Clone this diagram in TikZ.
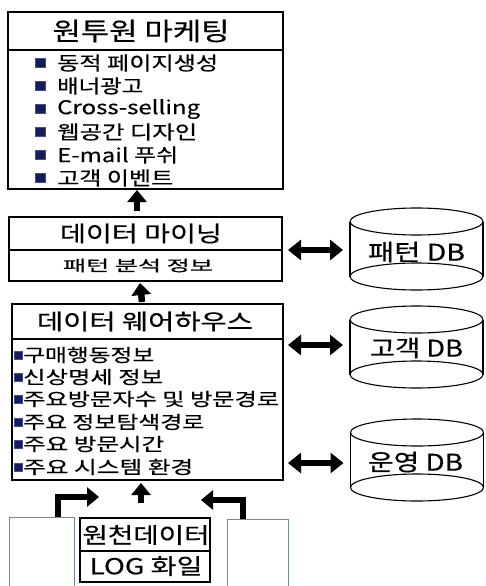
\documentclass[tikz,border=0pt]{standalone}
\usepackage{fontspec}
\usepackage{graphicx}
\usetikzlibrary{arrows.meta,calc}
\newfontfamily\kr[FakeBold=0.4]{Noto Sans CJK KR}
\newcommand{\fw}[2]{\resizebox{#1pt}{\height}{#2}}
\definecolor{navyA}{RGB}{22,28,88}
\definecolor{navyB}{RGB}{60,78,160}
\definecolor{blankblue}{RGB}{115,135,165}
\tikzset{
  box/.style={draw, line width=1.4pt, inner sep=0pt, outer sep=0pt, anchor=north west},
  blankbox/.style={draw=blankblue, line width=1.3pt, inner sep=0pt, anchor=north west},
  srcbox/.style={draw, line width=1.9pt, inner sep=0pt, outer sep=0pt, anchor=north west},
  txt/.style={inner sep=0pt},
  fA/.style={font=\kr\fontsize{25}{25}\selectfont},
  fB/.style={font=\kr\fontsize{22}{22}\selectfont},
  fC/.style={font=\kr\fontsize{19}{19}\selectfont},
  fD/.style={font=\kr\fontsize{18}{18}\selectfont},
  fE/.style={font=\kr\fontsize{15}{15}\selectfont},
  fF/.style={font=\kr\fontsize{23}{23}\selectfont},
  bulA/.style={rectangle, inner sep=0pt, minimum width=10pt, minimum height=9pt, fill=navyA, draw=navyB, line width=0.6pt},
  bulB/.style={rectangle, inner sep=0pt, minimum width=8pt, minimum height=8pt, fill=navyA, draw=navyB, line width=0.6pt},
  blk/.style={line width=6.5pt, -{Triangle[length=12pt,width=19pt]}},
  dbl/.style={line width=6.5pt, {Triangle[length=13pt,width=20pt]}-{Triangle[length=13pt,width=20pt]}},
  cylbody/.style={inner sep=0pt, outer sep=0pt, minimum width=133pt, minimum height=82pt},
  cyl/.style={line width=1.1pt}
}
\begin{document}
\begin{tikzpicture}[x=1pt,y=-1pt]
\useasboundingbox (0,0) rectangle (485,586);
\clip (0,0) rectangle (485,586);

% one-to-one marketing box
\node[box, minimum width=275pt, minimum height=38pt] (mktT) at (8,12) {};
\node[box, minimum width=275pt, minimum height=139pt] (mktB) at (8,50) {};
\node[txt, fA] (mktTitle) at (141,31) {\fw{177}{원투원 마케팅}};
\node[bulA] (mb1) at (40,63) {};
\node[bulA] (mb2) at (40,86) {};
\node[bulA] (mb3) at (40,109) {};
\node[bulA] (mb4) at (40,132) {};
\node[bulA] (mb5) at (40,155) {};
\node[bulA] (mb6) at (40,178) {};
\node[txt, fC, anchor=west] (m1) at (57,63) {\fw{161}{동적 페이지생성}};
\node[txt, fC, anchor=west] (m2) at (57,86) {\fw{86}{배너광고}};
\node[txt, fC, anchor=west] (m3) at (57,109) {\fw{143}{Cross-selling}};
\node[txt, fC, anchor=west] (m4) at (57,132) {\fw{140}{웹공간 디자인}};
\node[txt, fC, anchor=west] (m5) at (57,155) {\fw{121}{E-mail 푸쉬}};
\node[txt, fC, anchor=west] (m6) at (57,178) {\fw{116}{고객 이벤트}};

% data mining box
\node[box, minimum width=273pt, minimum height=33pt] (dmT) at (9,217) {};
\node[box, minimum width=273pt, minimum height=31pt] (dmB) at (9,250) {};
\node[txt, fB] (dmTitle) at (141,233.5) {\fw{162}{데이터 마이닝}};
\node[txt, fE] (dmSub) at (138,265.5) {\fw{150}{패턴 분석 정보}};

% data warehouse box
\node[box, minimum width=271pt, minimum height=35pt] (whT) at (12,304) {};
\node[box, minimum width=271pt, minimum height=141pt] (whB) at (12,339) {};
\node[txt, fB] (whTitle) at (145,321.5) {\fw{216}{데이터 웨어하우스}};
\node[bulB] (wb1) at (18.5,355) {};
\node[bulB] (wb2) at (18.5,377) {};
\node[bulB] (wb3) at (18.5,399) {};
\node[bulB] (wb4) at (18.5,422) {};
\node[bulB] (wb5) at (18.5,444) {};
\node[bulB] (wb6) at (18.5,467) {};
\node[txt, fD, anchor=west] (w1) at (23,355) {\fw{131}{구매행동정보}};
\node[txt, fD, anchor=west] (w2) at (23,377) {\fw{140}{신상명세 정보}};
\node[txt, fD, anchor=west] (w3) at (23,399) {\fw{256}{주요방문자수 및 방문경로}};
\node[txt, fD, anchor=west] (w4) at (23,422) {\fw{181}{주요 정보탐색경로}};
\node[txt, fD, anchor=west] (w5) at (23,444) {\fw{141}{주요 방문시간}};
\node[txt, fD, anchor=west] (w6) at (23,467) {\fw{170}{주요 시스템 환경}};

% source boxes
\node[blankbox, minimum width=65pt, minimum height=90pt] (blankL) at (9,517) {};
\node[blankbox, minimum width=61pt, minimum height=90pt] (blankR) at (227,519) {};
\node[srcbox, minimum width=130pt, minimum height=33pt] (srcA) at (80,518) {};
\node[srcbox, minimum width=130pt, minimum height=31pt] (srcB) at (80,551) {};
\node[txt, fB] (srcAt) at (146,535) {\fw{127}{원천데이터}};
\node[txt, fB] (srcBt) at (146,566) {\fw{113}{LOG 화일}};

% databases
\node[cylbody] (pdb) at (416.5,249) {};
\node[cylbody] (cdb) at (416.5,347) {};
\node[cylbody] (odb) at (417,460) {};
\foreach \c in {pdb,cdb,odb}{
  \draw[cyl] ($(\c.north west)+(0,13.5)$) -- ($(\c.south west)+(0,-13.5)$);
  \draw[cyl] ($(\c.north east)+(0,13.5)$) -- ($(\c.south east)+(0,-13.5)$);
  \draw[cyl] ($(\c.north)+(0,13.5)$) ellipse [x radius=66.5pt, y radius=13.5pt];
  \draw[cyl] ($(\c.south)+(0,-13.5)$) ellipse [x radius=66.5pt, y radius=13.5pt];
}
\node[txt, fF] (pdbT) at (416.5,252) {\fw{97}{패턴 DB}};
\node[txt, fF] (cdbT) at (416.5,348) {\fw{93}{고객 DB}};
\node[txt, fF] (odbT) at (415.5,462) {\fw{95}{운영 DB}};

% vertical flow arrows
\draw[blk] ($(dmT.north)+(-8.5,-6)$) -- ($(mktB.south)+(-8.5,1)$);
\draw[blk] ($(whT.north)+(-5.5,-2)$) -- ($(dmB.south)+(-5.5,2)$);
\draw[blk] ($(srcA.north)+(-4,-15)$) -- ($(srcA.north |- whB.south)+(-4,3)$);

% bent arrows from the side sources
\coordinate (lt) at (99,497);
\coordinate (rt) at (201,500);
\draw[blk] ($(blankL.north west)+(49,0)$) |- (lt);
\draw[blk] ($(blankR.north west)+(16,0)$) |- (rt);

% double arrows to databases
\draw[dbl] ($(pdb.west -| dmT.east)+(6,1)$) -- ($(pdb.west)+(-7,1)$);
\draw[dbl] ($(cdb.west -| whB.east)+(5,-2)$) -- ($(cdb.west)+(-7,-2)$);
\draw[dbl] ($(odb.west -| whB.east)+(5,3)$) -- ($(odb.west)+(-7,3)$);
\end{tikzpicture}
\end{document}
